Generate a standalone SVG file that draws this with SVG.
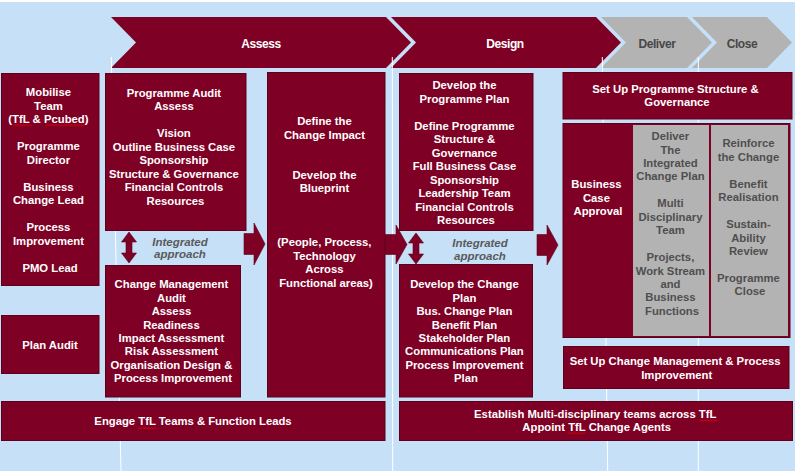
<svg xmlns="http://www.w3.org/2000/svg" width="795" height="471" viewBox="0 0 795 471">
<style>
.bg{fill:#c6e0f8}
.box{fill:#7f0025;stroke:#5e001a;stroke-width:1}
.gray{fill:#b3b3b3}
.chev{fill:#7f0025}
.chevg{fill:#b3b3b3}
.guide{stroke:#ffffff;stroke-width:1;fill:none}
.arr{fill:#7f0025;stroke:#5e001a;stroke-width:0.6}
.t{font-family:"Liberation Sans",Arial,sans-serif;font-size:11.3px;font-weight:bold;fill:#ffffff;text-anchor:middle}
.tg{fill:#4f4f4f}
.h{font-family:"Liberation Sans",Arial,sans-serif;font-size:12px;font-weight:bold;fill:#ffffff;text-anchor:middle;letter-spacing:-0.4px}
.hg{fill:#474747}
.it{font-family:"Liberation Sans",Arial,sans-serif;font-size:11.5px;font-style:italic;font-weight:bold;fill:#5a5a5a;text-anchor:middle}
.sq{fill:none;stroke:#e00000;stroke-width:1}
</style>
<rect class="bg" x="0" y="0" width="795" height="471"/>
<rect x="0" y="0" width="795" height="2" fill="#ffffff"/>

<g id="phases">
<g id="phase-assess">
<polygon class="chev" points="111,17 386,17 411,42.5 386,68 111,68 136,42.5"/>
<text class="h" x="261" y="48">Assess</text>
</g>
<g id="phase-design">
<polygon class="chev" points="391,17 596,17 621,42.5 596,68 391,68 416,42.5"/>
<text class="h" x="505" y="48">Design</text>
</g>
<g id="phase-deliver">
<polygon class="chevg" points="601,17 687,17 712,42.5 687,68 601,68 626,42.5"/>
<text class="h hg" x="657" y="48">Deliver</text>
</g>
<g id="phase-close">
<polygon class="chevg" points="692,17 767,17 792,42.5 767,68 692,68 717,42.5"/>
<text class="h hg" x="742" y="48">Close</text>
</g>
</g>

<g id="guides">
<line class="guide" x1="111.3" y1="57" x2="121" y2="471"/>
<line class="guide" x1="392.3" y1="57" x2="392.7" y2="471"/>
<line class="guide" x1="602.3" y1="57" x2="607.7" y2="471"/>
<line class="guide" x1="698.3" y1="57" x2="698.3" y2="471"/>
</g>

<g id="connectors">
<polygon class="arr" points="129,232 136.5,242 132,242 132,253 136.5,253 129,263 121.5,253 126,253 126,242 121.5,242"/>
<polygon class="arr" points="416,233 423.5,243 419,243 419,254 423.5,254 416,264 408.5,254 413,254 413,243 408.5,243"/>
<polygon class="arr" points="244,233.5 254,233.5 254,223 265,244 254,265 254,254.5 244,254.5"/>
<polygon class="arr" points="385,234.5 396,234.5 396,225 407,244.5 396,264 396,254.5 385,254.5"/>
<polygon class="arr" points="537,234.5 547,234.5 547,225 558,245 547,265 547,255.5 537,255.5"/>
<text class="it" x="180" y="245.5">Integrated</text>
<text class="it" x="180" y="258">approach</text>
<text class="it" x="480" y="247">Integrated</text>
<text class="it" x="480" y="259.5">approach</text>
</g>

<g id="mobilise-team">
<rect class="box" x="1.5" y="73.5" width="97.5" height="212"/>
<text class="t">
<tspan x="50" y="96.3">Mobilise</tspan>
<tspan x="50" y="109.8">Team</tspan>
<tspan x="50" y="123.3">(TfL &amp; Pcubed)</tspan>
<tspan x="50" y="150.3">Programme</tspan>
<tspan x="50" y="163.8">Director</tspan>
<tspan x="50" y="190.8">Business</tspan>
<tspan x="50" y="204.3">Change Lead</tspan>
<tspan x="50" y="231.3">Process</tspan>
<tspan x="50" y="244.8">Improvement</tspan>
<tspan x="50" y="271.8">PMO Lead</tspan>
</text>
<path class="sq" d="M13.5,125.8 l1.5,-1.3 l1.5,1.3 l1.5,-1.3 l1.5,1.3 l1.5,-1.3 l1.5,1.3 l1.5,-1.3 l1.5,1.3 l1.5,-1.3 l1.5,1.3 l1.5,-1.3 l1.5,1.3"/>
<path class="sq" d="M45.5,125.8 l1.5,-1.3 l1.5,1.3 l1.5,-1.3 l1.5,1.3 l1.5,-1.3 l1.5,1.3 l1.5,-1.3 l1.5,1.3 l1.5,-1.3 l1.5,1.3 l1.5,-1.3 l1.5,1.3 l1.5,-1.3 l1.5,1.3 l1.5,-1.3 l1.5,1.3 l1.5,-1.3 l1.5,1.3 l1.5,-1.3 l1.5,1.3 l1.5,-1.3 l1.5,1.3 l1.5,-1.3 l1.5,1.3 l1.5,-1.3 l1.5,1.3"/>
</g>

<g id="plan-audit">
<rect class="box" x="1.5" y="315.5" width="97.5" height="58"/>
<text class="t" x="50" y="349">Plan Audit</text>
</g>

<g id="programme-audit">
<rect class="box" x="105.5" y="73.5" width="140.5" height="157"/>
<text class="t">
<tspan x="175.5" y="97">Programme Audit</tspan>
<tspan x="175.5" y="110.45">Assess</tspan>
<tspan x="175.5" y="137.35">Vision</tspan>
<tspan x="175.5" y="150.8">Outline Business Case</tspan>
<tspan x="175.5" y="164.25">Sponsorship</tspan>
<tspan x="175.5" y="177.7">Structure &amp; Governance</tspan>
<tspan x="175.5" y="191.15">Financial Controls</tspan>
<tspan x="175.5" y="204.6">Resources</tspan>
</text>
</g>

<g id="change-management-audit">
<rect class="box" x="105.5" y="265.5" width="135" height="131.5"/>
<text class="t">
<tspan x="173" y="288.3">Change Management</tspan>
<tspan x="173" y="301.7">Audit</tspan>
<tspan x="173" y="315.1">Assess</tspan>
<tspan x="173" y="328.5">Readiness</tspan>
<tspan x="173" y="341.9">Impact Assessment</tspan>
<tspan x="173" y="355.3">Risk Assessment</tspan>
<tspan x="173" y="368.7">Organisation Design &amp;</tspan>
<tspan x="173" y="382.1">Process Improvement</tspan>
</text>
</g>

<g id="define-change-impact">
<rect class="box" x="267.5" y="72.5" width="117.5" height="324.5"/>
<text class="t">
<tspan x="326" y="125">Define the</tspan>
<tspan x="326" y="138.5">Change Impact</tspan>
<tspan x="326" y="178.9">Develop the</tspan>
<tspan x="326" y="192.4">Blueprint</tspan>
<tspan x="326" y="246.2">(People, Process,</tspan>
<tspan x="326" y="259.7">Technology</tspan>
<tspan x="326" y="273.1">Across</tspan>
<tspan x="326" y="286.6">Functional areas)</tspan>
</text>
</g>

<g id="engage-teams">
<rect class="box" x="1.5" y="401.5" width="383.5" height="39"/>
<text class="t" x="193" y="425">Engage TfL Teams &amp; Function Leads</text>
<path class="sq" d="M138,428.8 l1.5,-1.3 l1.5,1.3 l1.5,-1.3 l1.5,1.3 l1.5,-1.3 l1.5,1.3 l1.5,-1.3 l1.5,1.3 l1.5,-1.3 l1.5,1.3 l1.5,-1.3 l1.5,1.3"/>
</g>

<g id="programme-plan">
<rect class="box" x="399.5" y="73.5" width="133.5" height="157"/>
<text class="t">
<tspan x="466" y="89">Develop the</tspan>
<tspan x="466" y="102.5">Programme Plan</tspan>
<tspan x="466" y="129.5">Define Programme</tspan>
<tspan x="466" y="143">Structure &amp;</tspan>
<tspan x="466" y="156.5">Governance</tspan>
<tspan x="466" y="170">Full Business Case</tspan>
<tspan x="466" y="183.5">Sponsorship</tspan>
<tspan x="466" y="197">Leadership Team</tspan>
<tspan x="466" y="210.5">Financial Controls</tspan>
<tspan x="466" y="224">Resources</tspan>
</text>
</g>

<g id="change-plan">
<rect class="box" x="399.5" y="264.5" width="133" height="132.5"/>
<text class="t">
<tspan x="466" y="288.3">Develop the Change</tspan>
<tspan x="466" y="301.7">Plan</tspan>
<tspan x="466" y="315.1">Bus.  Change Plan</tspan>
<tspan x="466" y="328.5">Benefit Plan</tspan>
<tspan x="466" y="341.9">Stakeholder Plan</tspan>
<tspan x="466" y="355.3">Communications Plan</tspan>
<tspan x="466" y="368.7">Process Improvement</tspan>
<tspan x="466" y="382.1">Plan</tspan>
</text>
</g>

<g id="establish-teams">
<rect class="box" x="399.5" y="401.5" width="393" height="39"/>
<text class="t">
<tspan x="596.7" y="418.3">Establish Multi-disciplinary teams across TfL</tspan>
<tspan x="596.7" y="431">Appoint TfL Change Agents</tspan>
</text>
<path class="sq" d="M700,421.2 l1.5,-1.3 l1.5,1.3 l1.5,-1.3 l1.5,1.3 l1.5,-1.3 l1.5,1.3 l1.5,-1.3 l1.5,1.3 l1.5,-1.3 l1.5,1.3 l1.5,-1.3 l1.5,1.3"/>
<path class="sq" d="M567.5,433.9 l1.5,-1.3 l1.5,1.3 l1.5,-1.3 l1.5,1.3 l1.5,-1.3 l1.5,1.3 l1.5,-1.3 l1.5,1.3 l1.5,-1.3 l1.5,1.3 l1.5,-1.3 l1.5,1.3"/>
</g>

<g id="setup-programme-structure">
<rect class="box" x="563" y="72.5" width="229" height="46.5"/>
<text class="t">
<tspan x="677" y="93.3">Set Up Programme Structure &amp;</tspan>
<tspan x="677" y="106">Governance</tspan>
</text>
</g>

<g id="delivery-block">
<rect class="box" x="563" y="123.5" width="227" height="214"/>
<text class="t">
<tspan x="598" y="188.3">Business</tspan>
<tspan x="598" y="201.5">Case</tspan>
<tspan x="598" y="215">Approval</tspan>
</text>
</g>

<g id="deliver-integrated-plan">
<rect class="gray" x="633" y="125" width="76" height="211"/>
<text class="t tg">
<tspan x="672" y="140">Deliver</tspan>
<tspan x="672" y="153.5">The</tspan>
<tspan x="672" y="166.9">Integrated</tspan>
<tspan x="672" y="180.4">Change Plan</tspan>
<tspan x="672" y="207.3">Multi</tspan>
<tspan x="672" y="220.7">Disciplinary</tspan>
<tspan x="672" y="234.2">Team</tspan>
<tspan x="672" y="261.1">Projects,</tspan>
<tspan x="672" y="274.5">Work Stream</tspan>
<tspan x="672" y="288">and</tspan>
<tspan x="672" y="301.4">Business</tspan>
<tspan x="672" y="314.9">Functions</tspan>
</text>
</g>

<g id="reinforce-change">
<rect class="gray" x="711" y="125" width="77" height="211"/>
<text class="t tg">
<tspan x="750" y="147.3">Reinforce</tspan>
<tspan x="750" y="160.8">the Change</tspan>
<tspan x="750" y="187.7">Benefit</tspan>
<tspan x="750" y="201.1">Realisation</tspan>
<tspan x="750" y="228">Sustain-</tspan>
<tspan x="750" y="241.5">Ability</tspan>
<tspan x="750" y="254.9">Review</tspan>
<tspan x="750" y="281.8">Programme</tspan>
<tspan x="750" y="295.3">Close</tspan>
</text>
</g>

<g id="setup-change-management">
<rect class="box" x="563.5" y="346.5" width="225.5" height="42"/>
<text class="t">
<tspan x="676.7" y="365.3">Set Up Change Management &amp; Process</tspan>
<tspan x="676.7" y="379.3">Improvement</tspan>
</text>
</g>
</svg>
